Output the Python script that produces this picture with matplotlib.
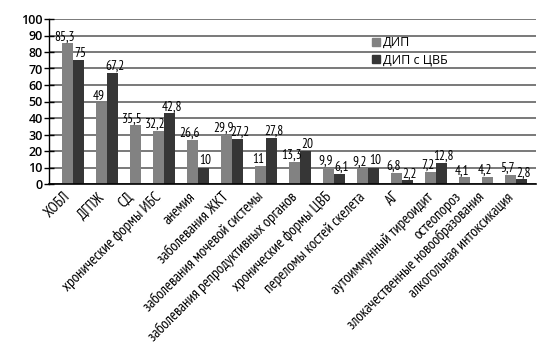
import matplotlib
matplotlib.use("Agg")
import matplotlib.pyplot as plt
from matplotlib.patches import Patch
import numpy as np

categories = ["ХОБЛ", "ДГПЖ", "СД", "хронические формы ИБС", "анемия",
              "заболевания ЖКТ", "заболевания мочевой системы",
              "заболевания репродуктивных органов", "хронические формы ЦВБ",
              "переломы костей скелета", "АГ", "аутоиммунный тиреоидит",
              "остеопороз", "злокачественные новообразования",
              "алкогольная интоксикация"]
dip = [85.3, 49, 35.5, 32.2, 26.6, 29.9, 11, 13.3, 9.9, 9.2, 6.8, 7.2, 4.1, 4.2, 5.7]
dip_cvb = [75, 67.2, None, 42.8, 10, 27.2, 27.8, 20, 6.1, 10, 2.2, 12.8, None, None, 2.8]
series_names = ["ДИП", "ДИП с ЦВБ"]
yticks = list(range(0, 101, 10))

GRAY = "#828282"
DARK = "#363636"
GAP = 12 / 11
NARROW = ["PT Sans Narrow", "Roboto Condensed", "DejaVu Sans"]

# packed bar layout: groups only occupy space for existing bars
gx, dx, dvals, centers = [], [], [], []
pos = 0.0
for g, d in zip(dip, dip_cvb):
    n = 1 if d is None else 2
    gx.append(pos + 0.5)
    if d is not None:
        dx.append(pos + 1.5)
        dvals.append(d)
    centers.append(pos + n / 2)
    pos += n + GAP

fig = plt.figure(figsize=(5.52, 3.6), dpi=100)
ax = fig.add_axes([49 / 552, 1 - 184 / 360, (536 - 49) / 552, (184 - 19) / 360])

ax.set_axisbelow(True)
ax.yaxis.grid(True, color="#555555", linewidth=1.1)
ax.xaxis.grid(False)

b1 = ax.bar(gx, dip, width=1.0, color=GRAY, zorder=2)
b2 = ax.bar(dx, dvals, width=1.0, color=DARK, zorder=2)

fmt = lambda v: f"{v:g}".replace(".", ",")
lab_font = dict(family=NARROW, fontsize=9.5)
anns1 = ax.bar_label(b1, labels=[fmt(v) for v in dip], padding=0, **lab_font)
anns2 = ax.bar_label(b2, labels=[fmt(v) for v in dvals], padding=0, **lab_font)
for a in anns1:
    a.xyann = (-2, 0)
for a in anns2:
    a.xyann = (1.5, 0)

ax.set_xlim(-13 / 11, 474 / 11)
ax.set_ylim(0, 100)
ax.set_yticks(yticks)
ax.set_yticklabels([str(t) for t in yticks], family="Open Sans",
                   fontweight="semibold", fontsize=9)
ax.tick_params(axis="y", direction="inout", length=7, width=1, pad=1)

ax.set_xticks(centers)
ax.set_xticklabels(categories, rotation=45, ha="right", va="top",
                   family=NARROW, fontsize=10.8)
ax.tick_params(axis="x", length=0, pad=4)

for s in ["top", "right"]:
    ax.spines[s].set_visible(False)
ax.spines["left"].set_linewidth(1.0)
ax.spines["bottom"].set_linewidth(1.2)

handles = [Patch(color=GRAY), Patch(color=DARK)]
fig.legend(handles, series_names, loc="upper left",
           bbox_to_anchor=(372 / 552, 1 - 36 / 360), frameon=False,
           handlelength=0.6, handleheight=0.6, handletextpad=0.25,
           labelspacing=0.35, borderaxespad=0, borderpad=0,
           prop=dict(family="Open Sans", size=9))

fig.savefig("out.png", dpi=100)
